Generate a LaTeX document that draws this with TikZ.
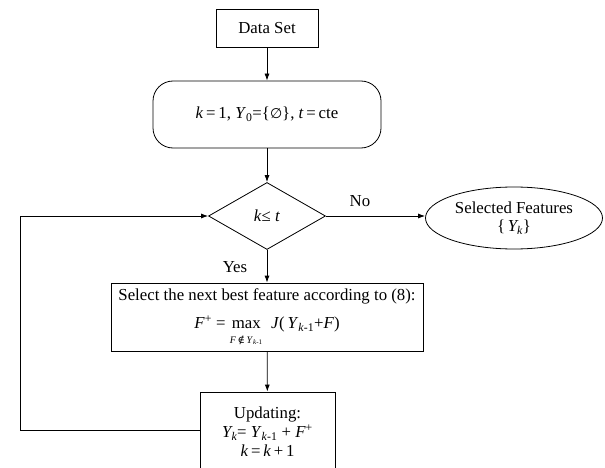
\documentclass[tikz,border=0pt]{standalone}
\usepackage{fontspec}
\setmainfont{Liberation Serif}
\newfontfamily\symfont{DejaVu Serif}
\newfontfamily\symsans{DejaVu Sans}
\usetikzlibrary{shapes.geometric,arrows.meta}
\tikzset{
  box/.style={draw, line width=0.8pt, rectangle, inner sep=0pt, align=center},
  arr/.style={draw, line width=0.8pt, -{Latex[length=7pt,width=5pt]}},
  lbl/.style={inner sep=0pt}
}
\begin{document}
\begin{tikzpicture}[x=1pt,y=-1pt,font=\fontsize{16.8}{20}\selectfont]
\useasboundingbox (0,0) rectangle (605,468);
\node[box, minimum width=102pt, minimum height=38pt] (ds) at (267,28) {Data Set};
\node[box, rounded corners=20pt, minimum width=228pt, minimum height=67pt] (init) at (267,114.5)
  {\textit{k}\,=\,1, \textit{Y}\textsubscript{0}={\{}{\symsans\fontsize{14}{16}\selectfont ∅}{\}}, \textit{t}\,=\,cte};
\node[draw, line width=0.8pt, diamond, inner sep=0pt, minimum width=117pt, minimum height=67pt] (dec) at (267,216)
  {\textit{k}≤ \textit{t}};
\node[draw, line width=0.8pt, ellipse, inner sep=0pt, minimum width=177pt, minimum height=62pt, align=center] (sel) at (514,218)
  {Selected Features\\[-2pt]\{\,\textit{Y\textsubscript{k}}\}};
\node[box, minimum width=312pt, minimum height=68pt] (best) at (267,317) {};
\node[lbl, align=center] (besttext) at (267,319)
  {Select the next best feature according to (8):\\[8pt]
   \textit{F}\textsuperscript{+} = \begin{tabular}[t]{@{}c@{}}max\\[-5pt]{\fontsize{10}{11}\selectfont\textit{F}\,{\symfont ∉}\,\textit{Y}\textsubscript{\textit{k}-1}}\end{tabular}\ \ \textit{J}(\,\textit{Y}\textsubscript{\textit{k}-1}+\textit{F})};
\node[box, minimum width=135pt, minimum height=80pt] (upd) at (267.5,432)
  {Updating:\\[-1pt]\textit{Y\textsubscript{k}}=\ \textit{Y}\textsubscript{\textit{k}-1} + \textit{F}\textsuperscript{+}\\[-1pt]\textit{k}\,=\,\textit{k}\,+\,1};
\coordinate (c1) at (20,430);
\coordinate (c2) at (20,216);
\draw[arr] (ds) -- (init);
\draw[arr] (init) -- (dec);
\draw[arr] (dec) -- (best);
\draw[arr] (best) -- (upd);
\draw[arr] (dec.east) -- (sel.west |- dec.east);
\draw[arr] (upd.west |- c1) -- (c1) -- (c2) -- (dec.west);
\node[lbl] (no) at (360,201) {No};
\node[lbl] (yes) at (235,267) {Yes};
\end{tikzpicture}
\end{document}
